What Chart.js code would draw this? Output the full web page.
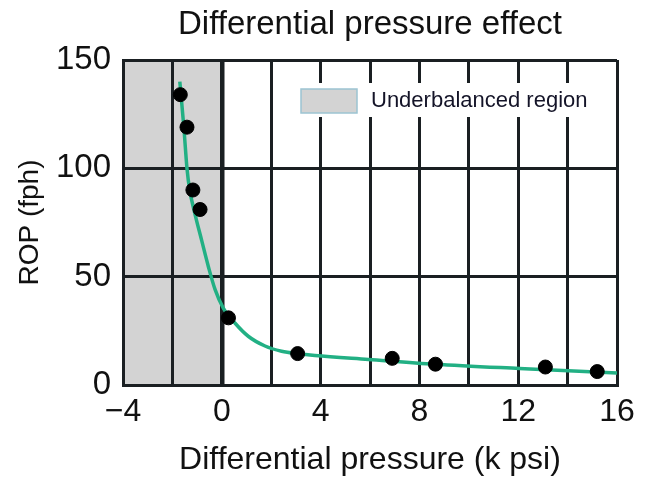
<!DOCTYPE html>
<html>
<head>
<meta charset="utf-8">
<script src="https://cdn.jsdelivr.net/npm/chart.js@4/dist/chart.umd.min.js"></script>
<style>
  html, body { margin: 0; padding: 0; background: #fff; }
  #wrap { width: 648px; height: 483px; }
</style>
</head>
<body>
<div id="wrap"><canvas id="chart"></canvas></div>
<script>
// measured points
const pressure = [-1.68, -1.41, -1.17, -0.88, 0.27, 3.07, 6.9, 8.65, 13.1, 15.2];
const rop = [134, 119, 90, 81, 31, 14.5, 12.3, 9.6, 8.3, 6.2];

// fitted curve
const fitPressure = [-1.70, -1.54, -1.41, -1.30, -1.12, -0.81, -0.54, -0.27, 0.06, 0.54, 1.07, 1.75, 2.42, 3.1, 3.77, 5.93, 8.64, 12.05, 16];
const fitRop = [140, 119.5, 100, 90, 80.5, 66.5, 54.5, 44, 35.5, 28.5, 22.5, 18, 15.6, 14.4, 13.6, 11.8, 9.6, 7.6, 5.5];

// underbalanced region (x range)
const regionFrom = -4;
const regionTo = 0;
const regionLabel = "Underbalanced region";

const xTicks = [-4, 0, 4, 8, 12, 16];
const yTicks = [0, 50, 100, 150];

const FONT = "'Liberation Sans', Arial, sans-serif";
const INK = "#1a1f22";

const toXY = (xs, ys) => xs.map((x, i) => ({ x: x, y: ys[i] }));

const regionPlugin = {
  id: "region",
  beforeDraw(chart) {
    const { ctx, chartArea, scales } = chart;
    const x0 = scales.x.getPixelForValue(regionFrom);
    const x1 = scales.x.getPixelForValue(regionTo);
    ctx.save();
    ctx.fillStyle = "#d3d3d3";
    ctx.fillRect(x0, chartArea.top, x1 - x0, chartArea.bottom - chartArea.top);
    ctx.restore();
  }
};

const legendPlugin = {
  id: "boxLegend",
  beforeDatasetsDraw(chart) {
    const { ctx, chartArea } = chart;
    const left = chartArea.left + 162;
    const top = chartArea.top + 23;
    ctx.save();
    ctx.fillStyle = "#fff";
    ctx.fillRect(left, top, chartArea.right - 5 - left, 34);
    ctx.fillStyle = "#d3d3d3";
    ctx.fillRect(left + 16, top + 6, 56, 24);
    ctx.strokeStyle = "#9cc4d2";
    ctx.lineWidth = 1.5;
    ctx.strokeRect(left + 16, top + 6, 56, 24);
    ctx.fillStyle = "#141428";
    ctx.font = "22px " + FONT;
    ctx.textBaseline = "middle";
    ctx.fillText(regionLabel, left + 86, top + 18);
    ctx.restore();
  }
};

new Chart(document.getElementById("chart"), {
  type: "scatter",
  data: {
    datasets: [
      {
        label: "Measured",
        data: toXY(pressure, rop),
        backgroundColor: "#000",
        borderColor: "#000",
        pointRadius: 7,
        pointHoverRadius: 7
      },
      {
        label: "Fit",
        data: toXY(fitPressure, fitRop),
        showLine: true,
        borderColor: "#22b084",
        borderWidth: 3.5,
        pointRadius: 0,
        cubicInterpolationMode: "monotone"
      }
    ]
  },
  options: {
    responsive: true,
    maintainAspectRatio: false,
    animation: false,
    layout: { padding: { left: 0, right: 31, top: 0, bottom: 0 } },
    plugins: {
      legend: { display: false },
      tooltip: { enabled: false },
      title: {
        display: true,
        text: "Differential pressure effect",
        fullSize: false,
        color: "#111",
        font: { family: FONT, size: 33, weight: "normal" },
        padding: { top: 5, bottom: 15.4 }
      }
    },
    scales: {
      x: {
        type: "linear",
        min: -4,
        max: 16,
        afterFit: s => { s.height = 98; },
        afterBuildTicks: s => {
          const t = [];
          for (let v = s.min; v <= s.max; v += 2) t.push({ value: v });
          s.ticks = t;
        },
        ticks: {
          autoSkip: false,
          maxRotation: 0,
          padding: 8,
          color: "#111",
          font: { family: FONT, size: 32 },
          callback: v => xTicks.includes(v) ? (v < 0 ? "\u2212" + Math.abs(v) : String(v)) : ""
        },
        grid: {
          color: INK,
          lineWidth: c => c.tick && c.tick.value === 0 ? 4.5 : 3,
          drawTicks: false
        },
        border: { display: true, color: INK, width: 3 },
        title: {
          display: true,
          text: "Differential pressure (k psi)",
          color: "#111",
          font: { family: FONT, size: 32 },
          padding: { top: 0, bottom: 4 }
        }
      },
      y: {
        type: "linear",
        min: 0,
        max: 150,
        afterFit: s => { s.width = 123; },
        afterBuildTicks: s => { s.ticks = yTicks.map(v => ({ value: v })); },
        ticks: {
          padding: 12,
          color: "#111",
          font: { family: FONT, size: 33 }
        },
        grid: { color: INK, lineWidth: 3, drawTicks: false },
        border: { display: true, color: INK, width: 3 },
        title: {
          display: true,
          text: "ROP (fph)",
          color: "#111",
          font: { family: FONT, size: 28 },
          padding: 13
        }
      }
    }
  },
  plugins: [regionPlugin, legendPlugin]
});
</script>
</body>
</html>
